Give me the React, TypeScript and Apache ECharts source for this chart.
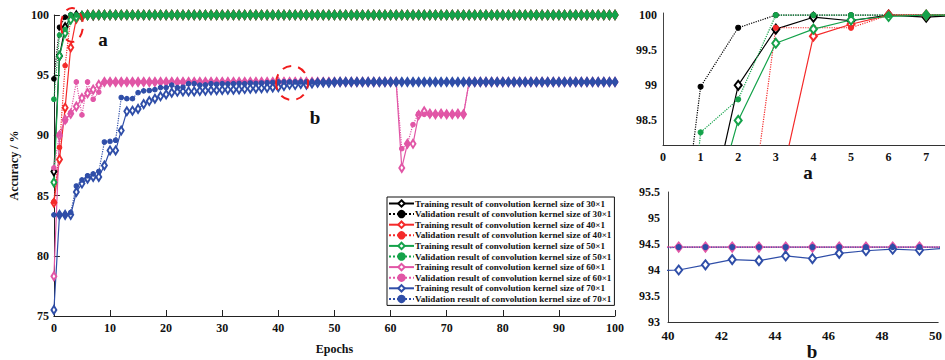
import React, { useEffect, useRef } from "react";
import * as echarts from "echarts";

const epochs = [
  0, 1, 2, 3, 4, 5, 6, 7, 8, 9,
  10, 11, 12, 13, 14, 15, 16, 17, 18, 19,
  20, 21, 22, 23, 24, 25, 26, 27, 28, 29,
  30, 31, 32, 33, 34, 35, 36, 37, 38, 39,
  40, 41, 42, 43, 44, 45, 46, 47, 48, 49,
  50, 51, 52, 53, 54, 55, 56, 57, 58, 59,
  60, 61, 62, 63, 64, 65, 66, 67, 68, 69,
  70, 71, 72, 73, 74, 75, 76, 77, 78, 79,
  80, 81, 82, 83, 84, 85, 86, 87, 88, 89,
  90, 91, 92, 93, 94, 95, 96, 97, 98, 99,
  100,
];

const train30 = [
  87.0, 96.6, 99.0, 99.8, 99.97, 99.92, 100, 99.97, 100, 100,
  100, 100, 100, 100, 100, 100, 100, 100, 100, 100,
  100, 100, 100, 100, 100, 100, 100, 100, 100, 100,
  100, 100, 100, 100, 100, 100, 100, 100, 100, 100,
  100, 100, 100, 100, 100, 100, 100, 100, 100, 100,
  100, 100, 100, 100, 100, 100, 100, 100, 100, 100,
  100, 100, 100, 100, 100, 100, 100, 100, 100, 100,
  100, 100, 100, 100, 100, 100, 100, 100, 100, 100,
  100, 100, 100, 100, 100, 100, 100, 100, 100, 100,
  100, 100, 100, 100, 100, 100, 100, 100, 100, 100,
  100,
];
const val30 = [
  94.7, 98.98, 99.82, 100, 100, 100, 100, 100, 100, 100,
  100, 100, 100, 100, 100, 100, 100, 100, 100, 100,
  100, 100, 100, 100, 100, 100, 100, 100, 100, 100,
  100, 100, 100, 100, 100, 100, 100, 100, 100, 100,
  100, 100, 100, 100, 100, 100, 100, 100, 100, 100,
  100, 100, 100, 100, 100, 100, 100, 100, 100, 100,
  100, 100, 100, 100, 100, 100, 100, 100, 100, 100,
  100, 100, 100, 100, 100, 100, 100, 100, 100, 100,
  100, 100, 100, 100, 100, 100, 100, 100, 100, 100,
  100, 100, 100, 100, 100, 100, 100, 100, 100, 100,
  100,
];
const train40 = [
  84.4, 88.0, 92.3, 97.3, 99.7, 99.87, 100, 100, 100, 100,
  100, 100, 100, 100, 100, 100, 100, 100, 100, 100,
  100, 100, 100, 100, 100, 100, 100, 100, 100, 100,
  100, 100, 100, 100, 100, 100, 100, 100, 100, 100,
  100, 100, 100, 100, 100, 100, 100, 100, 100, 100,
  100, 100, 100, 100, 100, 100, 100, 100, 100, 100,
  100, 100, 100, 100, 100, 100, 100, 100, 100, 100,
  100, 100, 100, 100, 100, 100, 100, 100, 100, 100,
  100, 100, 100, 100, 100, 100, 100, 100, 100, 100,
  100, 100, 100, 100, 100, 100, 100, 100, 100, 100,
  100,
];
const val40 = [
  84.5, 89.0, 95.8, 99.82, 99.82, 99.82, 100, 100, 100, 100,
  100, 100, 100, 100, 100, 100, 100, 100, 100, 100,
  100, 100, 100, 100, 100, 100, 100, 100, 100, 100,
  100, 100, 100, 100, 100, 100, 100, 100, 100, 100,
  100, 100, 100, 100, 100, 100, 100, 100, 100, 100,
  100, 100, 100, 100, 100, 100, 100, 100, 100, 100,
  100, 100, 100, 100, 100, 100, 100, 100, 100, 100,
  100, 100, 100, 100, 100, 100, 100, 100, 100, 100,
  100, 100, 100, 100, 100, 100, 100, 100, 100, 100,
  100, 100, 100, 100, 100, 100, 100, 100, 100, 100,
  100,
];
const train50 = [
  86.1, 96.6, 98.5, 99.6, 99.8, 99.93, 99.98, 100, 100, 100,
  100, 100, 100, 100, 100, 100, 100, 100, 100, 100,
  100, 100, 100, 100, 100, 100, 100, 100, 100, 100,
  100, 100, 100, 100, 100, 100, 100, 100, 100, 100,
  100, 100, 100, 100, 100, 100, 100, 100, 100, 100,
  100, 100, 100, 100, 100, 100, 100, 100, 100, 100,
  100, 100, 100, 100, 100, 100, 100, 100, 100, 100,
  100, 100, 100, 100, 100, 100, 100, 100, 100, 100,
  100, 100, 100, 100, 100, 100, 100, 100, 100, 100,
  100, 100, 100, 100, 100, 100, 100, 100, 100, 100,
  100,
];
const val50 = [
  93.0, 98.33, 98.8, 100, 100, 100, 100, 100, 100, 100,
  100, 100, 100, 100, 100, 100, 100, 100, 100, 100,
  100, 100, 100, 100, 100, 100, 100, 100, 100, 100,
  100, 100, 100, 100, 100, 100, 100, 100, 100, 100,
  100, 100, 100, 100, 100, 100, 100, 100, 100, 100,
  100, 100, 100, 100, 100, 100, 100, 100, 100, 100,
  100, 100, 100, 100, 100, 100, 100, 100, 100, 100,
  100, 100, 100, 100, 100, 100, 100, 100, 100, 100,
  100, 100, 100, 100, 100, 100, 100, 100, 100, 100,
  100, 100, 100, 100, 100, 100, 100, 100, 100, 100,
  100,
];
const train60 = [
  78.3, 90.0, 91.3, 91.8, 92.4, 93.1, 93.5, 93.8, 94.2, 94.44,
  94.44, 94.44, 94.44, 94.44, 94.44, 94.44, 94.44, 94.44, 94.44, 94.44,
  94.44, 94.44, 94.44, 94.44, 94.44, 94.44, 94.44, 94.44, 94.44, 94.44,
  94.44, 94.44, 94.44, 94.44, 94.44, 94.44, 94.44, 94.44, 94.44, 94.44,
  94.44, 94.44, 94.44, 94.44, 94.44, 94.44, 94.44, 94.44, 94.44, 94.44,
  94.44, 94.44, 94.44, 94.44, 94.44, 94.44, 94.44, 94.44, 94.44, 94.44,
  94.44, 94.44, 87.3, 89.3, 89.3, 91.7, 92.0, 91.8, 91.75, 91.8,
  91.75, 91.75, 91.8, 91.75, 94.44, 94.44, 94.44, 94.44, 94.44, 94.44,
  94.44, 94.44, 94.44, 94.44, 94.44, 94.44, 94.44, 94.44, 94.44, 94.44,
  94.44, 94.44, 94.44, 94.44, 94.44, 94.44, 94.44, 94.44, 94.44, 94.44,
  94.44,
];
const val60 = [
  87.3, 90.1, 91.2, 91.9, 94.44, 91.7, 94.44, 93.0, 93.6, 94.44,
  94.44, 94.44, 94.44, 94.44, 94.44, 94.44, 94.44, 94.44, 94.44, 94.44,
  94.44, 94.44, 94.44, 94.44, 94.44, 94.44, 94.44, 94.44, 94.44, 94.44,
  94.44, 94.44, 94.44, 94.44, 94.44, 94.44, 94.44, 94.44, 94.44, 94.44,
  94.44, 94.44, 94.44, 94.44, 94.44, 94.44, 94.44, 94.44, 94.44, 94.44,
  94.44, 94.44, 94.44, 94.44, 94.44, 94.44, 94.44, 94.44, 94.44, 94.44,
  94.44, 94.44, 88.9, 89.3, 90.9, 91.8, 91.75, 91.75, 91.75, 91.75,
  91.75, 91.75, 91.75, 91.75, 94.44, 94.44, 94.44, 94.44, 94.44, 94.44,
  94.44, 94.44, 94.44, 94.44, 94.44, 94.44, 94.44, 94.44, 94.44, 94.44,
  94.44, 94.44, 94.44, 94.44, 94.44, 94.44, 94.44, 94.44, 94.44, 94.44,
  94.44,
];
const train70 = [
  75.5, 83.4, 83.4, 83.4, 85.3, 86.0, 86.4, 86.55, 86.55, 87.5,
  88.75, 88.75, 90.4, 92.0, 92.05, 92.2, 92.6, 92.85, 93.05, 93.25,
  93.4, 93.55, 93.62, 93.65, 93.65, 93.65, 93.7, 93.72, 93.75, 93.75,
  93.78, 93.8, 93.8, 93.82, 93.85, 93.88, 93.9, 93.92, 93.95, 93.98,
  94.0, 94.1, 94.2, 94.18, 94.27, 94.22, 94.32, 94.37, 94.4, 94.38,
  94.42, 94.44, 94.44, 94.44, 94.44, 94.44, 94.44, 94.44, 94.44, 94.44,
  94.44, 94.44, 94.44, 94.44, 94.44, 94.44, 94.44, 94.44, 94.44, 94.44,
  94.44, 94.44, 94.44, 94.44, 94.44, 94.44, 94.44, 94.44, 94.44, 94.44,
  94.44, 94.44, 94.44, 94.44, 94.44, 94.44, 94.44, 94.44, 94.44, 94.44,
  94.44, 94.44, 94.44, 94.44, 94.44, 94.44, 94.44, 94.44, 94.44, 94.44,
  94.44,
];
const val70 = [
  83.4, 83.4, 83.4, 83.6, 85.8, 86.3, 86.65, 86.8, 87.0, 89.45,
  89.5, 89.6, 93.15, 93.05, 93.05, 93.55, 93.7, 93.73, 93.8, 93.97,
  93.97, 94.18, 93.97, 94.0, 94.3, 94.3, 94.18, 94.2, 94.3, 94.25,
  94.3, 94.28, 94.3, 94.32, 94.3, 94.35, 94.32, 94.35, 94.38, 94.4,
  94.44, 94.44, 94.44, 94.44, 94.44, 94.44, 94.44, 94.44, 94.44, 94.44,
  94.44, 94.44, 94.44, 94.44, 94.44, 94.44, 94.44, 94.44, 94.44, 94.44,
  94.44, 94.44, 94.44, 94.44, 94.44, 94.44, 94.44, 94.44, 94.44, 94.44,
  94.44, 94.44, 94.44, 94.44, 94.44, 94.44, 94.44, 94.44, 94.44, 94.44,
  94.44, 94.44, 94.44, 94.44, 94.44, 94.44, 94.44, 94.44, 94.44, 94.44,
  94.44, 94.44, 94.44, 94.44, 94.44, 94.44, 94.44, 94.44, 94.44, 94.44,
  94.44,
];

const mainXTicks = [0, 10, 20, 30, 40, 50, 60, 70, 80, 90, 100];
const mainYTicks = [75, 80, 85, 90, 95, 100];
const zoomAXTicks = [0, 1, 2, 3, 4, 5, 6, 7];
const zoomAYTicks = [98.5, 99, 99.5, 100];
const zoomBXTicks = [40, 42, 44, 46, 48, 50];
const zoomBYTicks = [93, 93.5, 94, 94.5, 95, 95.5];
// the zoomed panel b draws its epochs slightly shifted to the right
const zoomBShift = 0.4;

const FONT = "Liberation Serif";
const C = {
  black: "#000000",
  red: "#f42a2a",
  green: "#14a24a",
  pink: "#e156a6",
  blue: "#2f4ea8",
};

const seriesDefs = [
  { name: "Training result of convolution kernel size of 30×1", data: train30, color: C.black, train: true },
  { name: "Validation result of convolution kernel size of 30×1", data: val30, color: C.black, train: false },
  { name: "Training result of convolution kernel size of 40×1", data: train40, color: C.red, train: true },
  { name: "Validation result of convolution kernel size of 40×1", data: val40, color: C.red, train: false },
  { name: "Training result of convolution kernel size of 50×1", data: train50, color: C.green, train: true },
  { name: "Validation result of convolution kernel size of 50×1", data: val50, color: C.green, train: false },
  { name: "Training result of convolution kernel size of 60×1", data: train60, color: C.pink, train: true },
  { name: "Validation result of convolution kernel size of 60×1", data: val60, color: C.pink, train: false },
  { name: "Training result of convolution kernel size of 70×1", data: train70, color: C.blue, train: true },
  { name: "Validation result of convolution kernel size of 70×1", data: val70, color: C.blue, train: false },
];

function makeSeries(d: any, xi: number, shift: number, clip: boolean, big: boolean) {
  return {
    name: d.name,
    type: "line",
    xAxisIndex: xi,
    yAxisIndex: xi,
    data: epochs.map((e, i) => [e + shift, d.data[i]]),
    symbol: d.train ? "emptyDiamond" : "circle",
    symbolSize: d.train ? (big ? [7, 9] : [5, 8]) : big ? 5 : 4.5,
    showAllSymbol: true,
    clip,
    lineStyle: { color: d.color, width: 1.2, type: d.train ? "solid" : "dotted" },
    itemStyle: { color: d.color, borderColor: d.color, borderWidth: 1.1 },
    emphasis: { disabled: true },
    z: 3,
  };
}

const axisLabelStyle = (size: number) => ({
  fontFamily: FONT,
  fontWeight: "bold",
  fontSize: size,
  color: "#111",
});

export default function App() {
  const ref = useRef<HTMLDivElement>(null);
  useEffect(() => {
    if (!ref.current) return;
    const chart = echarts.init(ref.current, undefined, { renderer: "svg" });
    const series: any[] = [];
    seriesDefs.forEach((d) => series.push(makeSeries(d, 0, 0, false, false)));
    seriesDefs.slice(0, 6).forEach((d) => series.push(makeSeries(d, 1, 0, true, true)));
    seriesDefs.slice(6).forEach((d) => series.push(makeSeries(d, 2, zoomBShift, true, true)));

    const option: any = {
      animation: false,
      backgroundColor: "#ffffff",
      grid: [
        { left: 45, top: 15, width: 570, height: 308 },
        { left: 663, top: 13, width: 282, height: 132 },
        { left: 668, top: 192, width: 277, height: 130 },
      ],
      xAxis: [
        {
          gridIndex: 0,
          type: "value",
          min: 0,
          max: 100,
          interval: 10,
          name: "Epochs",
          nameLocation: "middle",
          nameGap: 27,
          nameTextStyle: { fontFamily: FONT, fontWeight: "bold", fontSize: 12, color: "#111" },
          axisLine: { onZero: false, lineStyle: { color: "#222", width: 1 } },
          axisTick: { inside: true, length: 6, lineStyle: { color: "#222" }, customValues: mainXTicks },
          axisLabel: { ...axisLabelStyle(12), margin: 6, customValues: mainXTicks },
          splitLine: { show: false },
        },
        {
          gridIndex: 1,
          type: "value",
          min: 0,
          max: 7.5,
          axisLine: { onZero: false, lineStyle: { color: "#333", width: 1 } },
          axisTick: { show: false },
          axisLabel: { ...axisLabelStyle(12), margin: 6, customValues: zoomAXTicks },
          splitLine: { show: false },
        },
        {
          gridIndex: 2,
          type: "value",
          min: 40,
          max: 50.1,
          axisLine: { onZero: false, lineStyle: { color: "#333", width: 1 } },
          axisTick: { show: false },
          axisLabel: { ...axisLabelStyle(13), margin: 7, customValues: zoomBXTicks },
          splitLine: { show: false },
        },
      ],
      yAxis: [
        {
          gridIndex: 0,
          type: "value",
          min: 75,
          max: 100,
          interval: 5,
          name: "Accuracy / %",
          nameLocation: "middle",
          nameGap: 30,
          nameRotate: 90,
          nameTextStyle: { fontFamily: FONT, fontWeight: "bold", fontSize: 12, color: "#111" },
          axisLine: { show: true, onZero: false, lineStyle: { color: "#222", width: 1 } },
          axisTick: { show: true, inside: true, length: 6, lineStyle: { color: "#222" }, customValues: mainYTicks },
          axisLabel: { ...axisLabelStyle(12), margin: 5, customValues: mainYTicks },
          splitLine: { show: false },
        },
        {
          gridIndex: 1,
          type: "value",
          min: 98.15,
          max: 100.03,
          axisLine: { show: true, onZero: false, lineStyle: { color: "#444", width: 1 } },
          axisTick: { show: false },
          axisLabel: { ...axisLabelStyle(12), margin: 6, customValues: zoomAYTicks },
          splitLine: { show: false },
        },
        {
          gridIndex: 2,
          type: "value",
          min: 93,
          max: 95.5,
          axisLine: { show: true, onZero: false, lineStyle: { color: "#444", width: 1 } },
          axisTick: { show: false },
          axisLabel: { ...axisLabelStyle(12), margin: 8, customValues: zoomBYTicks },
          splitLine: { show: false },
        },
      ],
      legend: {
        orient: "vertical",
        left: 387,
        top: 197,
        itemWidth: 25,
        itemHeight: 8,
        itemGap: 1.6,
        padding: [2, 3, 2, 1],
        backgroundColor: "#ffffff",
        borderColor: "#111",
        borderWidth: 1,
        borderRadius: 0,
        selectedMode: false,
        z: 10,
        textStyle: {
          fontFamily: FONT,
          fontWeight: "bold",
          fontSize: 9.1,
          color: "#111",
          padding: [0, 0, 0, -4],
        },
        data: seriesDefs.map((d) => d.name),
      },
      graphic: [
        { type: "text", x: 103, y: 39, z: 20, style: { text: "a", fontFamily: FONT, fontWeight: "bold", fontSize: 19, fill: "#111", align: "center", verticalAlign: "middle" } },
        { type: "text", x: 315, y: 117, z: 20, style: { text: "b", fontFamily: FONT, fontWeight: "bold", fontSize: 19, fill: "#111", align: "center", verticalAlign: "middle" } },
        { type: "text", x: 808, y: 172, z: 20, style: { text: "a", fontFamily: FONT, fontWeight: "bold", fontSize: 19, fill: "#111", align: "center", verticalAlign: "middle" } },
        { type: "text", x: 812, y: 351, z: 20, style: { text: "b", fontFamily: FONT, fontWeight: "bold", fontSize: 19, fill: "#111", align: "center", verticalAlign: "middle" } },
        { type: "ellipse", z: 20, shape: { cx: 72, cy: 25, rx: 11, ry: 17 }, style: { fill: "none", stroke: "#f01c1c", lineWidth: 2, lineDash: [9, 7] } },
        { type: "ellipse", z: 20, shape: { cx: 292, cy: 83, rx: 16, ry: 17 }, style: { fill: "none", stroke: "#f01c1c", lineWidth: 2, lineDash: [9, 7] } },
      ],
      series,
    };
    chart.setOption(option);
    return () => chart.dispose();
  }, []);
  return (
    <div
      ref={ref}
      style={{ position: "fixed", left: 0, top: 0, width: 945, height: 360, background: "#fff" }}
    />
  );
}
